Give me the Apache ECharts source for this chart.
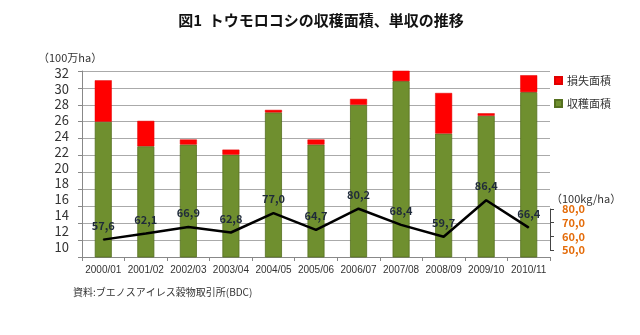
<!DOCTYPE html>
<html><head><meta charset="utf-8">
<script src="https://cdn.jsdelivr.net/npm/echarts@6/dist/echarts.min.js"></script>
<style>html,body{margin:0;padding:0;background:#fff}#c{width:640px;height:335px}</style>
</head><body><div id="c"></div>
<script>
var categories = ['2000/01','2001/02','2002/03','2003/04','2004/05','2005/06','2006/07','2007/08','2008/09','2009/10','2010/11'];
var harvested = [26.0, 23.1, 23.3, 22.1, 27.1, 23.3, 28.0, 30.8, 24.6, 26.7, 29.5];
var lost = [4.9, 3.0, 0.6, 0.6, 0.3, 0.6, 0.7, 1.3, 4.8, 0.3, 2.0];
var yieldVals = [57.6, 62.1, 66.9, 62.8, 77.0, 64.7, 80.2, 68.4, 59.7, 86.4, 66.4];
var leftTicks = [10,12,14,16,18,20,22,24,26,28,30,32];
var rightTicks = [50,60,70,80];

var FONT = '"Noto Sans CJK JP", "DejaVu Sans", sans-serif';
var chart = echarts.init(document.getElementById('c'), null, {renderer:'canvas'});
var fmt = function(v){ return v.toFixed(1).replace('.', ','); };
chart.setOption({
  backgroundColor: '#ffffff',
  textStyle: {fontFamily: FONT},
  animation: false,
  title: [
    {text: '図1  トウモロコシの収穫面積、単収の推移', left: 316, top: 8, textAlign: 'center',
     textStyle: {fontSize: 15, fontWeight: 'bold', color: '#111', fontFamily: FONT}},
    {text: '（100万ha）', left: 33, top: 47, textStyle: {fontSize: 11, fontWeight: 'normal', color: '#333', fontFamily: FONT}},
    {text: '（100kg/ha）', left: 546, top: 188, textStyle: {fontSize: 11, fontWeight: 'normal', color: '#333', fontFamily: FONT}},
    {text: '資料:ブエノスアイレス穀物取引所(BDC)', left: 68, top: 282, textStyle: {fontSize: 10, fontWeight: 'normal', color: '#333', fontFamily: FONT}}
  ],
  legend: {
    data: ['損失面積', '収穫面積'], orient: 'vertical', left: 549, top: 70,
    itemWidth: 7, itemHeight: 7, itemGap: 12, icon: 'rect',
    textStyle: {fontSize: 11, color: '#333', fontFamily: FONT}
  },
  grid: [
    {left: 82, right: 90, top: 71, bottom: 78},
    {left: 82, right: 90, top: 209, height: 41}
  ],
  xAxis: [
    {type: 'category', data: categories, gridIndex: 0,
     axisLine: {lineStyle: {color: '#888'}},
     axisTick: {show: true, length: 4, lineStyle: {color: '#888'}},
     axisLabel: {interval: 0, fontSize: 10, color: '#333', margin: 8, fontFamily: '"Liberation Sans", "DejaVu Sans", sans-serif'}},
    {type: 'category', data: categories, gridIndex: 1, show: false}
  ],
  yAxis: [
    {type: 'value', gridIndex: 0, min: 10, max: 32, interval: 2,
     axisLine: {show: true, lineStyle: {color: '#888'}},
     axisTick: {show: true, length: 4, lineStyle: {color: '#888'}},
     axisLabel: {show: false},
     splitLine: {lineStyle: {color: '#aaa', width: 1}}},
    {type: 'value', gridIndex: 0, min: 8.69, max: 32.25, position: 'left',
     axisLine: {show: false}, axisTick: {show: false}, splitLine: {show: false},
     axisLabel: {customValues: leftTicks, fontSize: 13, color: '#333', margin: 13, fontFamily: FONT}},
    {type: 'value', gridIndex: 1, min: 50, max: 80, interval: 10, position: 'right',
     axisLine: {show: true, lineStyle: {color: '#444'}},
     axisTick: {show: true, length: 4, lineStyle: {color: '#444'}},
     splitLine: {show: false},
     axisLabel: {customValues: rightTicks, formatter: function(v){return fmt(v);}, fontSize: 11, fontWeight: 'bold', color: '#e46c0a', margin: 12, fontFamily: FONT}}
  ],
  series: [
    {name: '収穫面積', type: 'bar', stack: 'a', xAxisIndex: 0, yAxisIndex: 0, data: harvested, barWidth: 17,
     itemStyle: {color: '#6f8f2f', borderColor: '#55701f', borderWidth: 0.8}},
    {name: '損失面積', type: 'bar', stack: 'a', xAxisIndex: 0, yAxisIndex: 0, data: lost, barWidth: 17,
     itemStyle: {color: '#ff0000', borderColor: '#e00000', borderWidth: 0.5}},
    {name: '単収', type: 'line', xAxisIndex: 1, yAxisIndex: 2, data: yieldVals, clip: false,
     showSymbol: true, symbol: 'circle', symbolSize: 1, itemStyle: {color: '#000'},
     lineStyle: {color: '#000', width: 2.5},
     label: {show: true, position: 'top', distance: 8, formatter: function(p){return fmt(p.value);},
             fontSize: 11, fontWeight: 'bold', color: '#1f2a3a', fontFamily: FONT},
     z: 5}
  ]
});
</script></body></html>
